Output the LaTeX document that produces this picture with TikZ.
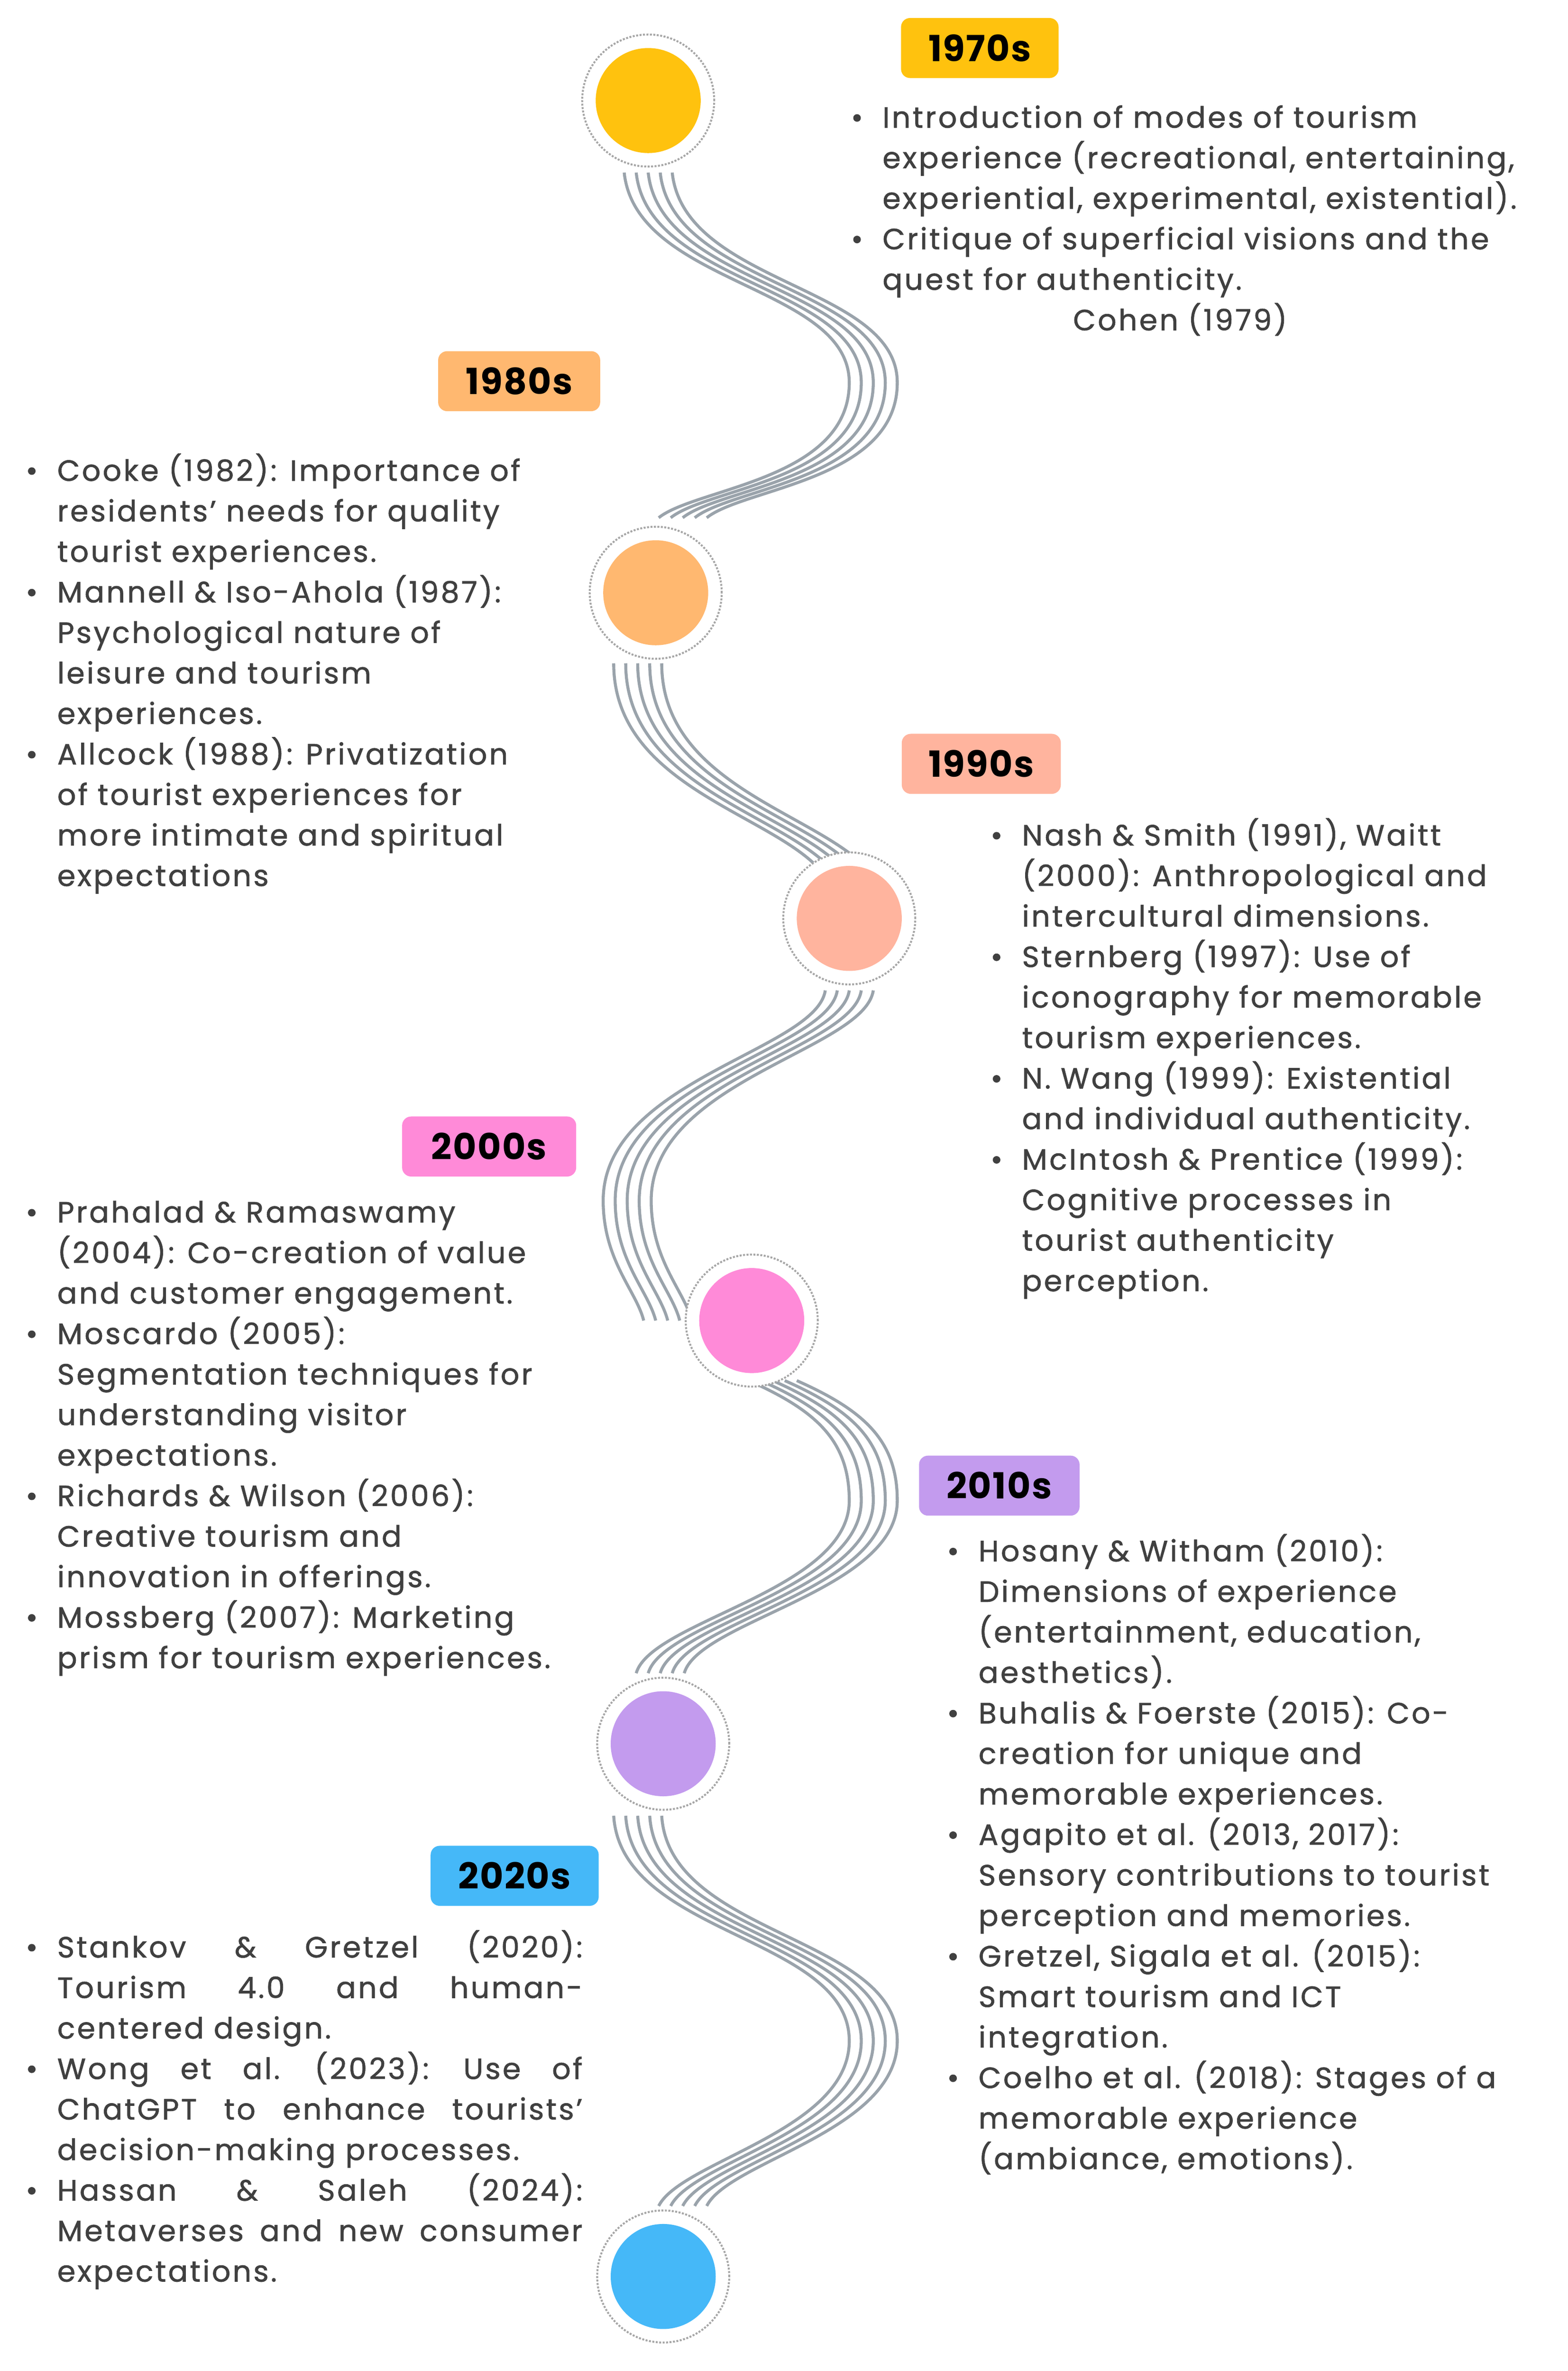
\documentclass[tikz,border=0pt]{standalone}
\usepackage{fontspec}
\setmainfont{Poppins}[LetterSpace=7,FakeBold=1.2]
\newfontfamily\tagfont{Poppins}[LetterSpace=3]
\begin{document}
\begin{tikzpicture}[x=1pt,y=-1pt,
  txt/.style={anchor=north west,align=left,inner sep=0pt,text=black!75,font=\fontsize{19.5}{27}\selectfont},
  tag/.style={rounded corners=6pt,inner sep=0pt,font=\tagfont\bfseries\fontsize{24}{28}\selectfont,text=black},
  dot/.style={circle,minimum size=70pt,inner sep=0pt},
  ring/.style={circle,draw=gray!70,densely dotted,line width=1.3pt,minimum size=88pt,inner sep=0pt}]
\useasboundingbox (0,0) rectangle (1045,1580);
\definecolor{c1}{HTML}{FFC20E}\definecolor{c2}{HTML}{FFB870}\definecolor{c3}{HTML}{FFB49E}
\definecolor{c4}{HTML}{FF8AD8}\definecolor{c5}{HTML}{C39BEE}\definecolor{c6}{HTML}{45B8F8}
\definecolor{wv}{HTML}{9AA3AB}
\tikzset{wave/.style={draw=wv,line width=2pt}}
% waves
\foreach \k in {-2,...,2}{
 \draw[wave,shift={(\k*8,0)}] (432,115) .. controls (440,190) and (582,190) .. (582,255) .. controls (582,320) and (480,325) .. (455,345);
 \draw[wave,shift={(\k*8,0)}] (425,442) .. controls (425,520) and (520,540) .. (558,575);
 \draw[wave,shift={(\k*8,0)}] (566,660) .. controls (560,700) and (418,720) .. (418,800) .. controls (418,840) and (440,860) .. (445,880);
 \draw[wave,shift={(\k*8,0)}] (515,920) .. controls (560,940) and (582,960) .. (582,1000) .. controls (582,1060) and (450,1080) .. (440,1115);
 \draw[wave,shift={(\k*8,0)}] (425,1210) .. controls (430,1290) and (582,1290) .. (582,1360) .. controls (582,1420) and (470,1440) .. (455,1470);
}
% circles
\foreach \n/\x/\y/\c in {a/432/67/c1,b/437/395/c2,c/566/612/c3,d/501/880/c4,e/442/1162/c5,f/442/1517/c6}{
 \node[ring,fill=white] (r\n) at (\x,\y) {};
 \node[dot,fill=\c] (\n) at (\x,\y) {};
}
% tags
\node[tag,fill=c1,minimum width=105pt,minimum height=40pt] (t1) at (653,32) {1970s};
\node[tag,fill=c2,minimum width=108pt,minimum height=40pt] (t2) at (346,254) {1980s};
\node[tag,fill=c3,minimum width=106pt,minimum height=40pt] (t3) at (654,509) {1990s};
\node[tag,fill=c4,minimum width=116pt,minimum height=40pt] (t4) at (326,764) {2000s};
\node[tag,fill=c5,minimum width=107pt,minimum height=40pt] (t5) at (666,990) {2010s};
\node[tag,fill=c6,minimum width=112pt,minimum height=40pt] (t6) at (343,1250) {2020s};
\def\b{\llap{\textbullet\hspace{13pt}}}
\node[txt] (x1) at (588,70) {\b Introduction of modes of tourism\\experience (recreational, entertaining,\\experiential, experimental, existential).\\\b Critique of superficial visions and the\\quest for authenticity.\\\hspace{127pt}Cohen (1979)};
\node[txt] (x2) at (38,302) {\b Cooke (1982): Importance of\\residents' needs for quality\\tourist experiences.\\\b Mannell \& Iso-Ahola (1987):\\Psychological nature of\\leisure and tourism\\experiences.\\\b Allcock (1988): Privatization\\of tourist experiences for\\more intimate and spiritual\\expectations};
\node[txt] (x3) at (681,545) {\b Nash \& Smith (1991), Waitt\\(2000): Anthropological and\\intercultural dimensions.\\\b Sternberg (1997): Use of\\iconography for memorable\\tourism experiences.\\\b N. Wang (1999): Existential\\and individual authenticity.\\\b McIntosh \& Prentice (1999):\\Cognitive processes in\\tourist authenticity\\perception.};
\node[txt] (x4) at (38,800) {\b Prahalad \& Ramaswamy\\(2004): Co-creation of value\\and customer engagement.\\\b Moscardo (2005):\\Segmentation techniques for\\understanding visitor\\expectations.\\\b Richards \& Wilson (2006):\\Creative tourism and\\innovation in offerings.\\\b Mossberg (2007): Marketing\\prism for tourism experiences.};
\node[txt] (x5) at (652,1022) {\b Hosany \& Witham (2010):\\Dimensions of experience\\(entertainment, education,\\aesthetics).\\\b Buhalis \& Foerste (2015): Co-\\creation for unique and\\memorable experiences.\\\b Agapito et al. (2013, 2017):\\Sensory contributions to tourist\\perception and memories.\\\b Gretzel, Sigala et al. (2015):\\Smart tourism and ICT\\integration.\\\b Coelho et al. (2018): Stages of a\\memorable experience\\(ambiance, emotions).};
\def\j#1{\makebox[350pt][s]{#1}}
\node[txt] (x6) at (38,1286) {\b\j{Stankov \hfill \& \hfill Gretzel \hfill (2020):}\\\j{Tourism \hfill 4.0 \hfill and \hfill human-}\\centered design.\\\b\j{Wong \hfill et \hfill al. \hfill (2023): \hfill Use \hfill of}\\\j{ChatGPT \hfill to \hfill enhance \hfill tourists'}\\decision-making processes.\\\b\j{Hassan \hfill \& \hfill Saleh \hfill (2024):}\\\j{Metaverses \hfill and \hfill new \hfill consumer}\\expectations.};
\end{tikzpicture}
\end{document}
